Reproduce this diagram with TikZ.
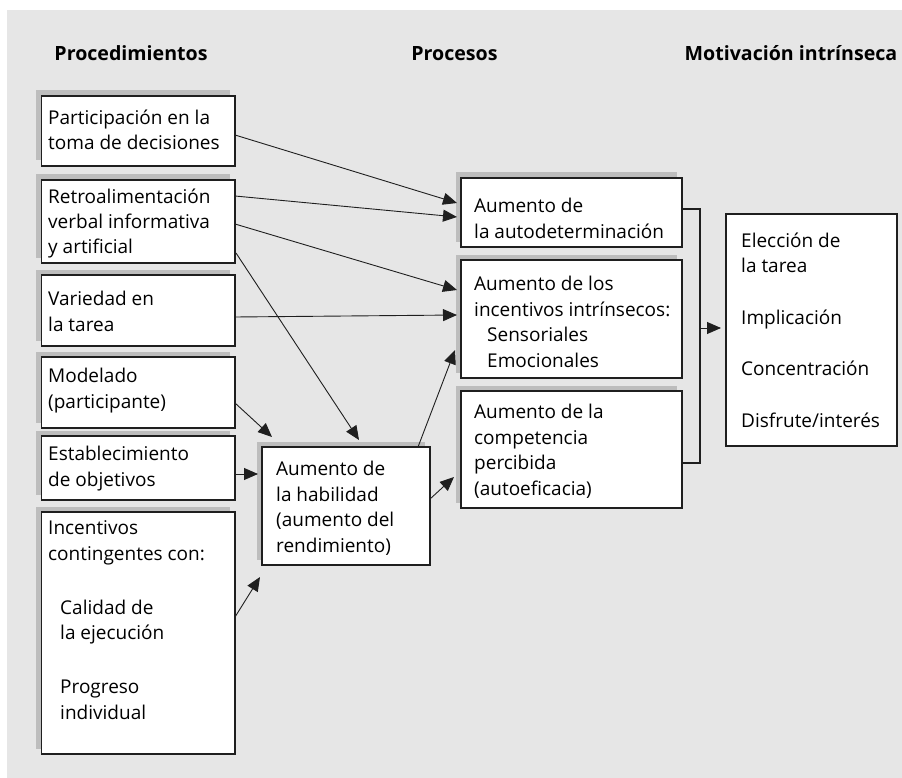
\documentclass[tikz,border=0pt]{standalone}
\usepackage{fontspec}
\setmainfont{Open Sans}
\usetikzlibrary{arrows.meta,calc}
\definecolor{bgc}{gray}{0.902}
\definecolor{shc}{gray}{0.74}
\definecolor{brd}{gray}{0.12}
\newcommand\drawbox[5]{%
  \fill[shc] ({#2-5.5},{#3-5.5}) rectangle ({#4-5.5},{#5-5.5});
  \node[box, minimum width={(#4-#2)*1pt}, minimum height={(#5-#3)*1pt}] (#1) at ({(#2+#4)/2},{(#3+#5)/2}) {};
}
\begin{document}
\begin{tikzpicture}[x=1pt,y=-1pt,
  box/.style={draw=brd, line width=1.2pt, fill=white, inner sep=0pt, outer sep=0pt},
  txt/.style={anchor=base west, align=left, inner sep=0pt, font=\fontsize{19}{25.5}\selectfont},
  ttl/.style={anchor=base, inner sep=0pt, font=\fontsize{19.6}{21}\selectfont\bfseries},
  arr/.style={-{Triangle[length=14pt,width=12pt]}, line width=0.9pt, draw=brd},
  lin/.style={line width=1.1pt, draw=brd}
]
\useasboundingbox (0,0) rectangle (902,778);
\fill[white] (0,0) rectangle (902,778);
\fill[bgc] (7,10) rectangle (902,778);

% titles
\node[ttl] (t1) at (131,61) {Procedimientos};
\node[ttl] (t2) at (454.5,61) {Procesos};
\node[ttl] (t3) at (791,61) {Motivación intrínseca};

% left column
\drawbox{part}{41.5}{96}{235}{166}
\drawbox{retro}{41.5}{180}{235}{263}
\drawbox{var}{41.5}{275}{235}{346}
\drawbox{mod}{41.5}{357}{235}{428}
\drawbox{est}{41.5}{436}{235}{500}
\drawbox{inc}{41.5}{512}{235}{754}
% middle
\drawbox{hab}{262}{447}{430}{565}
\drawbox{auto}{461}{178}{682}{247}
\drawbox{intr}{461}{260}{682}{378}
\drawbox{comp}{461}{391}{682}{508}
% right
\node[box, minimum width=171pt, minimum height=232pt] (mot) at (811.5,330) {};

% texts (anchor = baseline of last line)
\node[txt] (partT) at (48,150) {Participación en la\\toma de decisiones};
\node[txt] (retroT) at (48,254) {Retroalimentación\\verbal informativa\\y artificial};
\node[txt] (varT) at (48,331) {Variedad en\\la tarea};
\node[txt] (modT) at (48,408) {Modelado\\(participante)};
\node[txt] (estT) at (48,486) {Establecimiento\\de objetivos};
\node[txt] (incT) at (48,719) {Incentivos\\contingentes con:\\[28.5pt]\hspace*{12pt}Calidad de\\\hspace*{12pt}la ejecución\\[28.5pt]\hspace*{12pt}Progreso\\\hspace*{12pt}individual};
\node[txt] (habT) at (276,552) {Aumento de\\la habilidad\\(aumento del\\rendimiento)};
\node[txt] (autoT) at (474,238) {Aumento de\\la autodeterminación};
\node[txt] (intrT) at (474,367) {Aumento de los\\incentivos intrínsecos:\\\hspace*{13pt}Sensoriales\\\hspace*{13pt}Emocionales};
\node[txt] (compT) at (474,495) {Aumento de la\\competencia\\percibida\\(autoeficacia)};
\node[txt] (motT) at (741,427) {Elección de\\la tarea\\[26pt]Implicación\\[26pt]Concentración\\[26pt]Disfrute/interés};

% connectors
\draw[arr] ($(part.east)+(0,4)$) -- ($(auto.west)+(-4,-9.5)$);
\draw[arr] ($(retro.east)+(0,-25.5)$) -- ($(auto.west)+(-4,4.5)$);
\draw[arr] ($(retro.east)+(0,2.5)$) -- ($(intr.west)+(-4,-29)$);
\draw[arr] ($(retro.south east)+(1,-10)$) -- ($(hab.north)+(13,-7)$);
\draw[arr] ($(var.east)+(0,6.5)$) -- ($(intr.west)+(-4,-4)$);
\draw[arr] ($(mod.east)+(0,10.5)$) -- ($(hab.north west)+(10,-10)$);
\draw[arr] ($(est.east)+(0,6)$) -- ($(hab.north west)+(-4,27)$);
\draw[arr] ($(inc.east)+(0,-16)$) -- ($(hab.south west)+(-2,12)$);
\draw[arr] ($(hab.north east)+(-12,0)$) -- ($(intr.west)+(-6,31)$);
\draw[arr] ($(hab.east)+(0,-7)$) -- ($(comp.west)+(-7,27.5)$);
\coordinate (br) at (700,328);
\draw[lin] ($(auto.east)+(0,-3.5)$) -| (br) |- ($(comp.east)+(0,13.5)$);
\draw[arr] (br) -- ($(mot.west)+(-5,-2)$);
\end{tikzpicture}
\end{document}
